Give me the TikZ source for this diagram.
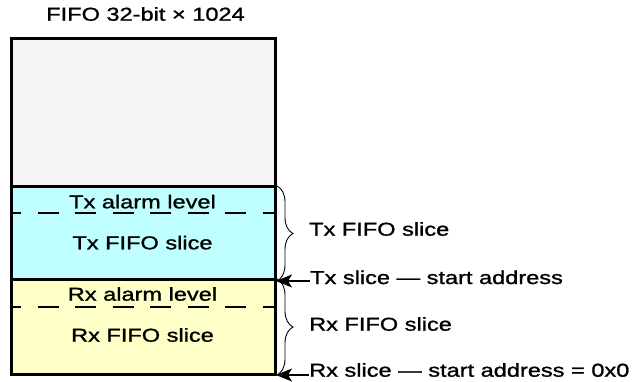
\documentclass[tikz,border=0pt]{standalone}
\usepackage{fontspec}
\setmainfont{Liberation Sans}[FakeStretch=1.26, FakeBold=1.2]
\usetikzlibrary{arrows.meta,decorations.pathreplacing}
\definecolor{freegray}{RGB}{245,245,245}
\definecolor{txcyan}{RGB}{192,255,255}
\definecolor{rxyellow}{RGB}{255,255,200}
\begin{document}
\begin{tikzpicture}[x=1pt,y=-1pt,
  every node/.style={font=\fontsize{18.7}{22}\selectfont, inner sep=0pt},
  region/.style={draw=black, line width=2pt, minimum width=263pt, anchor=north west},
  alarm/.style={line width=1.5pt, dash pattern=on 21pt off 16.5pt, dash phase=11pt},
  inlabel/.style={anchor=base},
  sidelabel/.style={anchor=base west},
  sizebrace/.style={decorate, decoration={brace, amplitude=16pt}, line width=0.9pt},
  startarrow/.style={-{Stealth[length=16pt, width=13pt, inset=4pt]}, line width=1.6pt}]
  \useasboundingbox (0,0) rectangle (634,381);

  % memory regions of the FIFO
  \node[region, fill=freegray, minimum height=148pt] (free) at (11,38) {};
  \node[region, fill=txcyan, minimum height=93pt] (tx) at (11,186) {};
  \node[region, fill=rxyellow, minimum height=94pt] (rx) at (11,279) {};

  % alarm level marks
  \coordinate (txalarmL) at (11,213);
  \coordinate (txalarmR) at (274,213);
  \coordinate (rxalarmL) at (11,307);
  \coordinate (rxalarmR) at (274,307);
  \draw[alarm] (txalarmL) -- (txalarmR);
  \draw[alarm] (rxalarmL) -- (rxalarmR);

  % redraw the outline on top
  \draw[line width=2pt] (free.north west) rectangle (rx.south east);
  \draw[line width=2pt] (tx.north west) -- (tx.north east);
  \draw[line width=2pt] (rx.north west) -- (rx.north east);

  % texts
  \node[inlabel] (title) at (145.5,20.7) {FIFO 32-bit × 1024};
  \node[inlabel] (txalarm) at (142.5,208.3) {Tx alarm level};
  \node[inlabel] (txslice) at (142.5,249.3) {Tx FIFO slice};
  \node[inlabel] (rxalarm) at (142.5,300.7) {Rx alarm level};
  \node[inlabel] (rxslice) at (142.5,341.7) {Rx FIFO slice};

  \node[sidelabel] (txsize) at (309,235.7) {Tx FIFO slice};
  \node[sidelabel] (txstart) at (310,284) {Tx slice — start address};
  \node[sidelabel] (rxsize) at (309,330.7) {Rx FIFO slice};
  \node[sidelabel] (rxstart) at (309,376.7) {Rx slice — start address = 0x0};

  % braces spanning each slice
  \draw[sizebrace] ([xshift=1pt]tx.north east) -- ([xshift=1pt]tx.south east);
  \draw[sizebrace] ([xshift=1pt]rx.north east) -- ([xshift=1pt]rx.south east);

  % start address pointers
  \draw[startarrow] (tx.south east -| txstart.west) -- (tx.south east);
  \draw[startarrow] (rx.south east -| rxstart.west) -- (rx.south east);
\end{tikzpicture}
\end{document}
